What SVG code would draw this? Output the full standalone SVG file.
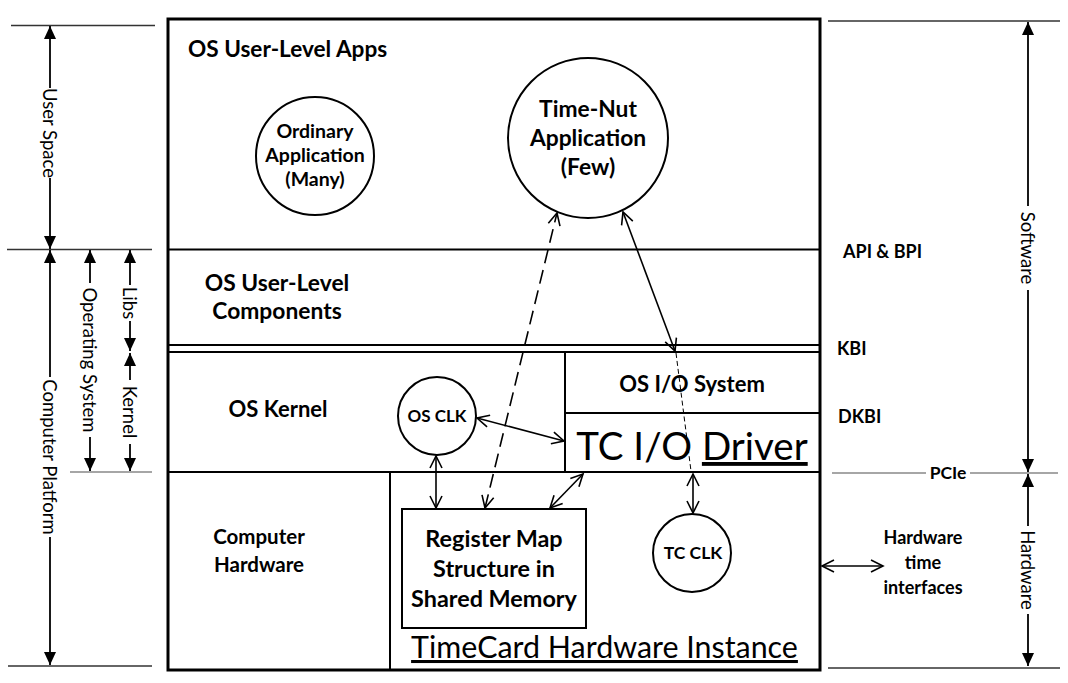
<svg xmlns="http://www.w3.org/2000/svg" width="1068" height="683" viewBox="0 0 1068 683">
<style>
.b{font-family:Lato,"Liberation Sans",sans-serif;font-weight:bold;fill:#000}
.r{font-family:Lato,"Liberation Sans",sans-serif;font-weight:normal;fill:#000}
.vt{font-family:Lato,"Liberation Sans",sans-serif;font-weight:normal;fill:#000;font-size:18.5px}
.box{fill:none;stroke:#000;stroke-width:2}
.ln{stroke:#000;stroke-width:2;fill:none}
.guide{stroke:#333;stroke-width:1.3;fill:none}
.gray{stroke:#888;stroke-width:1.5;fill:none}
.dim{stroke:#000;stroke-width:1.8;fill:none}
.con{stroke:#000;stroke-width:1.6;fill:none}
</style>
<defs>
<marker id="fa" viewBox="0 0 13 12" refX="13" refY="6" markerWidth="13" markerHeight="12" markerUnits="userSpaceOnUse" orient="auto-start-reverse"><path d="M0,0 L13,6 L0,12 z" fill="#000"/></marker>
<marker id="oa" viewBox="-1 -1 15 15" refX="12" refY="6" markerWidth="15" markerHeight="15" markerUnits="userSpaceOnUse" orient="auto-start-reverse"><path d="M0,0 L12,6 L0,12" fill="none" stroke="#000" stroke-width="1.6"/></marker>
</defs>
<rect width="1068" height="683" fill="#fff"/>

<g id="frame">
<rect x="168" y="19" width="652" height="651" fill="none" stroke="#000" stroke-width="3"/>
<line class="ln" x1="168" y1="249.5" x2="820" y2="249.5"/>
<line class="ln" x1="168" y1="345" x2="820" y2="345"/>
<line class="ln" x1="168" y1="352" x2="820" y2="352"/>
<line class="ln" x1="168" y1="472" x2="820" y2="472" stroke-width="2.5"/>
</g>

<g id="apps-layer">
<text class="b" x="188" y="57" font-size="22.6">OS User-Level Apps</text>
</g>
<g id="ordinary-app">
<circle cx="315" cy="156" r="59" class="box"/>
<text class="b" font-size="19.5" text-anchor="middle"><tspan x="315" y="138">Ordinary</tspan><tspan x="315" y="162">Application</tspan><tspan x="315" y="186">(Many)</tspan></text>
</g>
<g id="timenut-app">
<circle cx="588" cy="138" r="80" class="box"/>
<text class="b" font-size="22.8" text-anchor="middle"><tspan x="588" y="117">Time-Nut</tspan><tspan x="588" y="146">Application</tspan><tspan x="588" y="175">(Few)</tspan></text>
</g>
<g id="components-layer">
<text class="b" font-size="22.8" text-anchor="middle"><tspan x="277" y="291">OS User-Level</tspan><tspan x="277" y="319">Components</tspan></text>
</g>
<g id="kernel-layer">
<text class="b" x="278" y="417" font-size="22" text-anchor="middle">OS Kernel</text>
</g>
<g id="os-clk">
<circle cx="437" cy="416" r="39" class="box"/>
<text class="b" x="437" y="422" font-size="17" text-anchor="middle">OS CLK</text>
</g>
<g id="os-io-system">
<rect x="565" y="352" width="255" height="61" class="box"/>
<text class="b" x="692" y="392" font-size="22" text-anchor="middle">OS I/O System</text>
</g>
<g id="tc-io-driver">
<rect x="565" y="413" width="255" height="59" class="box"/>
<text class="r" x="692" y="460" font-size="38.5" text-anchor="middle">TC I/O <tspan text-decoration="underline">Driver</tspan></text>
</g>
<g id="computer-hardware">
<text class="b" font-size="20.5" text-anchor="middle"><tspan x="259" y="544">Computer</tspan><tspan x="259" y="572">Hardware</tspan></text>
</g>
<g id="timecard">
<line class="ln" x1="390" y1="472" x2="390" y2="670"/>
<text class="r" x="604.5" y="658" font-size="30.4" text-anchor="middle" text-decoration="underline">TimeCard Hardware Instance</text>
</g>
<g id="register-map">
<rect x="402" y="509" width="184" height="119" class="box"/>
<text class="b" font-size="23.4" text-anchor="middle"><tspan x="494" y="547">Register Map</tspan><tspan x="494" y="577">Structure in</tspan><tspan x="494" y="607">Shared Memory</tspan></text>
</g>
<g id="tc-clk">
<circle cx="692" cy="553" r="39" class="box"/>
<text class="b" x="693" y="559" font-size="17.5" text-anchor="middle">TC CLK</text>
</g>

<g id="interfaces">
<text class="b" x="843" y="258" font-size="18">API &amp; BPI</text>
<text class="b" x="837" y="355" font-size="18">KBI</text>
<text class="b" x="838" y="423" font-size="18">DKBI</text>
<text class="b" x="948" y="479" font-size="17.5" text-anchor="middle">PCIe</text>
<text class="b" font-size="18" text-anchor="middle"><tspan x="923" y="544">Hardware</tspan><tspan x="923" y="569">time</tspan><tspan x="923" y="594">interfaces</tspan></text>
</g>

<g id="dimensions">
<line class="guide" x1="11" y1="25.5" x2="155" y2="25.5"/>
<line class="guide" x1="7" y1="249.5" x2="152" y2="249.5"/>
<line class="gray" x1="70" y1="472" x2="152" y2="472"/>
<line class="guide" x1="8" y1="666" x2="152" y2="666"/>
<line class="guide" x1="828" y1="21" x2="1060" y2="21"/>
<line class="gray" x1="832" y1="473" x2="926" y2="473"/>
<line class="gray" x1="970" y1="473" x2="1058" y2="473"/>
<line class="guide" x1="828" y1="668" x2="1060" y2="668"/>

<line class="dim" x1="50" y1="26" x2="50" y2="88" marker-start="url(#fa)"/>
<line class="dim" x1="50" y1="178" x2="50" y2="249" marker-end="url(#fa)"/>
<text class="vt" text-anchor="middle" dominant-baseline="central" transform="translate(50,133) rotate(90)">User Space</text>

<line class="dim" x1="50" y1="250" x2="50" y2="377" marker-start="url(#fa)"/>
<line class="dim" x1="50" y1="537" x2="50" y2="665" marker-end="url(#fa)"/>
<text class="vt" text-anchor="middle" dominant-baseline="central" transform="translate(50,457) rotate(90)">Computer Platform</text>

<line class="dim" x1="90" y1="250" x2="90" y2="283" marker-start="url(#fa)"/>
<line class="dim" x1="90" y1="437" x2="90" y2="471" marker-end="url(#fa)"/>
<text class="vt" text-anchor="middle" dominant-baseline="central" transform="translate(90,360) rotate(90)">Operating System</text>

<line class="dim" x1="130" y1="250" x2="130" y2="285" marker-start="url(#fa)"/>
<line class="dim" x1="130" y1="321" x2="130" y2="351" marker-end="url(#fa)"/>
<text class="vt" text-anchor="middle" dominant-baseline="central" transform="translate(130,303) rotate(90)">Libs</text>

<line class="dim" x1="130" y1="353" x2="130" y2="380" marker-start="url(#fa)"/>
<line class="dim" x1="130" y1="444" x2="130" y2="471" marker-end="url(#fa)"/>
<text class="vt" text-anchor="middle" dominant-baseline="central" transform="translate(130,412) rotate(90)">Kernel</text>

<line class="dim" x1="1028" y1="22" x2="1028" y2="206" marker-start="url(#fa)"/>
<line class="dim" x1="1028" y1="290" x2="1028" y2="472" marker-end="url(#fa)"/>
<text class="vt" text-anchor="middle" dominant-baseline="central" transform="translate(1028,248) rotate(90)">Software</text>

<line class="dim" x1="1028" y1="474" x2="1028" y2="526" marker-start="url(#fa)"/>
<line class="dim" x1="1028" y1="614" x2="1028" y2="666" marker-end="url(#fa)"/>
<text class="vt" text-anchor="middle" dominant-baseline="central" transform="translate(1028,570) rotate(90)">Hardware</text>
</g>

<g id="connectors">
<line class="con" x1="477" y1="418" x2="564" y2="441" marker-start="url(#oa)" marker-end="url(#oa)"/>
<line class="con" x1="436" y1="456" x2="436" y2="508" marker-start="url(#oa)" marker-end="url(#oa)"/>
<line class="con" x1="485" y1="508" x2="557" y2="213" stroke-dasharray="14 7" marker-start="url(#oa)" marker-end="url(#oa)"/>
<line class="con" x1="550" y1="508" x2="583" y2="474" marker-start="url(#oa)" marker-end="url(#oa)"/>
<line class="con" x1="623" y1="212" x2="675" y2="351" marker-start="url(#oa)" marker-end="url(#oa)"/>
<line x1="676" y1="353" x2="691" y2="471" stroke="#000" stroke-width="1" stroke-dasharray="5 3"/>
<line class="con" x1="693" y1="474" x2="693" y2="513" marker-start="url(#oa)" marker-end="url(#oa)"/>
<line class="con" x1="822" y1="566" x2="883" y2="566" marker-start="url(#oa)" marker-end="url(#oa)"/>
</g>
</svg>
